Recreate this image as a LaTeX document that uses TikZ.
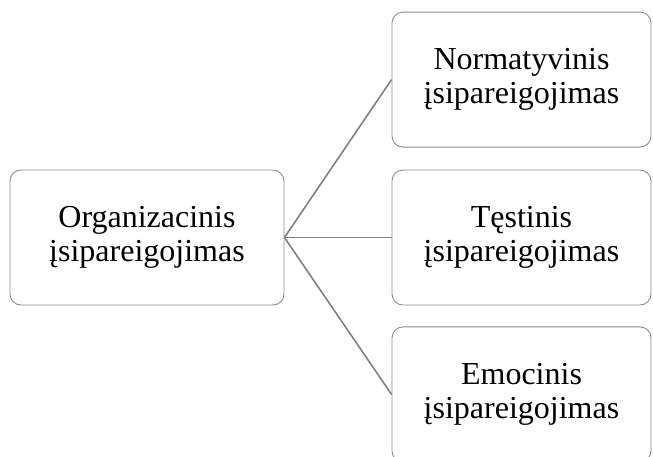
\documentclass[tikz,border=0pt]{standalone}
\usepackage{fontspec}
\setmainfont{Liberation Serif}
\usetikzlibrary{positioning}

\begin{document}
\begin{tikzpicture}[x=1pt,y=-1pt,
  box/.style={draw=black!45,line width=0.9pt,rounded corners=11pt,align=center,
    minimum width=259pt,minimum height=135pt,inner sep=0pt,
    font=\fontsize{32}{34}\selectfont},
  link/.style={draw=black!50,line width=1.6pt}]
\useasboundingbox (0,0) rectangle (653,456);
\node[box,minimum width=274pt] (org) at (147,237.5) {Organizacinis\\įsipareigojimas};
\node[box] (tes) at (521.5,237.5) {Tęstinis\\įsipareigojimas};
\node[box,above=22pt of tes] (norm) {Normatyvinis\\įsipareigojimas};
\node[box,below=21pt of tes] (emo) {Emocinis\\įsipareigojimas};
\draw[link] (org.east)--(norm.west);
\draw[link] (org.east)--(tes.west);
\draw[link] (org.east)--(emo.west);
\end{tikzpicture}
\end{document}
